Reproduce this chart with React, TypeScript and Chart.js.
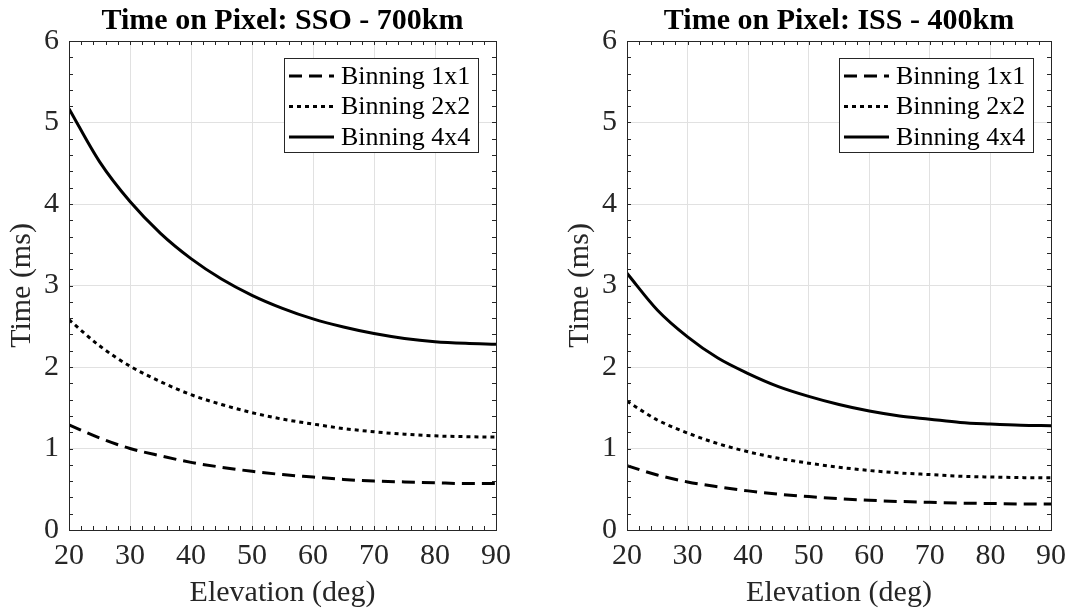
import React, { useEffect, useRef } from "react";
import { Chart, registerables } from "chart.js";

Chart.register(...registerables);

// ---------- data ----------
const elevation = [20, 25, 30, 35, 40, 45, 50, 55, 60, 65, 70, 75, 80, 85, 90];

const sso1x1 = [1.29, 1.13, 1.0, 0.91, 0.83, 0.77, 0.72, 0.68, 0.65, 0.62, 0.6, 0.59, 0.58, 0.57, 0.57];
const sso2x2 = [2.58, 2.26, 2.01, 1.82, 1.66, 1.54, 1.44, 1.36, 1.3, 1.245, 1.205, 1.175, 1.155, 1.145, 1.14];
const sso4x4 = [5.17, 4.52, 4.03, 3.64, 3.33, 3.08, 2.88, 2.72, 2.59, 2.49, 2.41, 2.35, 2.31, 2.29, 2.28];

const iss1x1 = [0.79, 0.675, 0.59, 0.53, 0.48, 0.44, 0.41, 0.385, 0.365, 0.35, 0.34, 0.33, 0.325, 0.32, 0.32];
const iss2x2 = [1.58, 1.35, 1.19, 1.06, 0.96, 0.88, 0.82, 0.77, 0.73, 0.7, 0.68, 0.66, 0.65, 0.643, 0.64];
const iss4x4 = [3.15, 2.7, 2.37, 2.11, 1.92, 1.76, 1.64, 1.54, 1.46, 1.4, 1.36, 1.32, 1.3, 1.285, 1.28];

const seriesLabels = ["Binning 1x1", "Binning 2x2", "Binning 4x4"];
const titles = ["Time on Pixel: SSO - 700km", "Time on Pixel: ISS - 400km"];
const xTitle = "Elevation (deg)";
const yTitle = "Time (ms)";

// ---------- styling ----------
const FONT = "'Liberation Serif', 'Times New Roman', Times, serif";
const AXIS_COLOR = "#262626";
const GRID_COLOR = "#e1e1e1";
const DASHES = [[13, 7], [4, 4], []];

function framePlugin(titleText: string) {
  return {
    id: "frame",
    afterDraw(chart: any) {
      const { ctx, chartArea: a, scales } = chart;
      const xs = scales.x;
      const ys = scales.y;
      ctx.save();
      // box
      ctx.strokeStyle = AXIS_COLOR;
      ctx.lineWidth = 1;
      ctx.setLineDash([]);
      ctx.strokeRect(Math.round(a.left) + 0.5, Math.round(a.top) + 0.5, Math.round(a.right - a.left), Math.round(a.bottom - a.top));
      // inward ticks
      const tl = 4;
      ctx.beginPath();
      for (let v = xs.min; v <= xs.max + 1e-9; v += 2) {
        const px = Math.round(xs.getPixelForValue(v)) + 0.5;
        ctx.moveTo(px, a.bottom);
        ctx.lineTo(px, a.bottom - tl);
        ctx.moveTo(px, a.top);
        ctx.lineTo(px, a.top + tl);
      }
      for (let i = 0; i <= 30; i++) {
        const v = ys.min + i * 0.2;
        const py = Math.round(ys.getPixelForValue(v)) + 0.5;
        ctx.moveTo(a.left, py);
        ctx.lineTo(a.left + tl, py);
        ctx.moveTo(a.right, py);
        ctx.lineTo(a.right - tl, py);
      }
      ctx.stroke();

      // title
      ctx.fillStyle = "#000";
      ctx.font = `bold 30px ${FONT}`;
      ctx.textAlign = "center";
      ctx.textBaseline = "middle";
      ctx.fillText(titleText, (a.left + a.right) / 2, 21);

      // legend
      ctx.font = `26px ${FONT}`;
      const datasets = chart.data.datasets;
      let maxW = 0;
      datasets.forEach((d: any) => {
        maxW = Math.max(maxW, ctx.measureText(d.label).width);
      });
      const boxW = Math.round(57 + maxW + 8);
      const right = Math.round(a.right - 18);
      const left = right - boxW;
      const top = Math.round(a.top + 17);
      const boxH = 94;
      ctx.fillStyle = "#fff";
      ctx.fillRect(left, top, boxW, boxH);
      ctx.strokeStyle = AXIS_COLOR;
      ctx.lineWidth = 1;
      ctx.strokeRect(left + 0.5, top + 0.5, boxW, boxH);
      datasets.forEach((d: any, i: number) => {
        const y = top + 18 + i * 30.5;
        ctx.strokeStyle = "#000";
        ctx.lineWidth = 3;
        ctx.lineCap = "butt";
        ctx.setLineDash(d.borderDash || []);
        ctx.beginPath();
        ctx.moveTo(left + 5, y);
        ctx.lineTo(left + 50, y);
        ctx.stroke();
        ctx.setLineDash([]);
        ctx.fillStyle = "#000";
        ctx.textAlign = "left";
        ctx.textBaseline = "middle";
        ctx.fillText(d.label, left + 57, y + 1);
      });
      ctx.restore();
    },
  };
}

function buildConfig(titleText: string, series: number[][], padLeft: number, padRight: number): any {
  return {
    type: "line",
    data: {
      datasets: series.map((vals, i) => ({
        label: seriesLabels[i],
        data: elevation.map((e, j) => ({ x: e, y: vals[j] })),
        borderColor: "#000",
        backgroundColor: "#000",
        borderWidth: 3,
        borderDash: DASHES[i],
        borderCapStyle: "butt",
        pointRadius: 0,
        fill: false,
        cubicInterpolationMode: "monotone",
      })),
    },
    options: {
      responsive: false,
      animation: false,
      layout: { padding: { top: 41, left: padLeft, right: padRight, bottom: 0 } },
      plugins: {
        legend: { display: false },
        title: { display: false },
        tooltip: { enabled: false },
      },
      scales: {
        x: {
          type: "linear",
          min: 20,
          max: 90,
          ticks: {
            stepSize: 10,
            color: AXIS_COLOR,
            font: { family: FONT, size: 30 },
            padding: 8,
            maxRotation: 0,
            autoSkip: false,
          },
          grid: { color: GRID_COLOR, drawTicks: false, lineWidth: 1 },
          border: { display: false },
          title: {
            display: true,
            text: xTitle,
            color: AXIS_COLOR,
            font: { family: FONT, size: 30 },
            padding: { top: 0, bottom: 3 },
          },
          afterFit(s: any) {
            s.height = 84;
          },
        },
        y: {
          type: "linear",
          min: 0,
          max: 6,
          ticks: {
            stepSize: 1,
            color: AXIS_COLOR,
            font: { family: FONT, size: 30 },
            padding: 10,
          },
          grid: { color: GRID_COLOR, drawTicks: false, lineWidth: 1 },
          border: { display: false },
          title: {
            display: true,
            text: yTitle,
            color: AXIS_COLOR,
            font: { family: FONT, size: 30 },
            padding: { top: 4, bottom: 0 },
          },
          afterFit(s: any) {
            s.width = 69;
          },
        },
      },
    },
    plugins: [framePlugin(titleText)],
  };
}

function Panel(props: { title: string; series: number[][]; padLeft: number; padRight: number; left: number }) {
  const ref = useRef<HTMLCanvasElement | null>(null);
  useEffect(() => {
    if (!ref.current) return;
    const chart = new Chart(ref.current, buildConfig(props.title, props.series, props.padLeft, props.padRight));
    return () => chart.destroy();
  }, []);
  return (
    <div style={{ position: "absolute", left: props.left, top: 0, width: 537, height: 614 }}>
      <canvas ref={ref} width={537} height={614} style={{ width: 537, height: 614, display: "block" }} />
    </div>
  );
}

export default function App() {
  return (
    <div style={{ position: "absolute", left: 0, top: 0, width: 1074, height: 614, background: "#fff" }}>
      <Panel title={titles[0]} series={[sso1x1, sso2x2, sso4x4]} padLeft={0} padRight={41} left={0} />
      <Panel title={titles[1]} series={[iss1x1, iss2x2, iss4x4]} padLeft={21} padRight={20} left={537} />
    </div>
  );
}
